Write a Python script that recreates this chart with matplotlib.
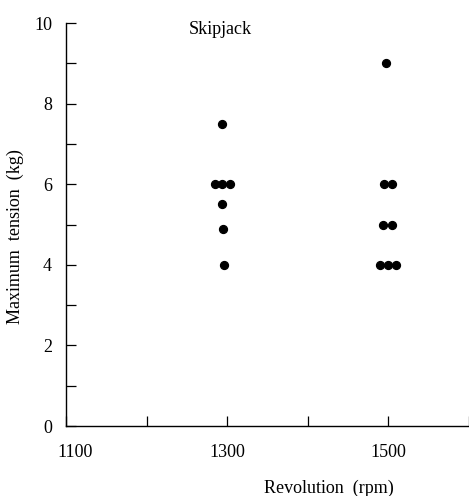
import matplotlib.pyplot as plt
import matplotlib.transforms as mtransforms
from matplotlib.ticker import MultipleLocator

# Skipjack maximum tension vs revolution (points spread sideways where they overlap)
rpm_1300 = [1294, 1285, 1294, 1304, 1294, 1295, 1296]
tension_1300 = [7.5, 6.0, 6.0, 6.0, 5.5, 4.9, 4.0]
rpm_1500 = [1497, 1494, 1505, 1493, 1504, 1490, 1499, 1509]
tension_1500 = [9.0, 6.0, 6.0, 5.0, 5.0, 4.0, 4.0, 4.0]

x_ticks = [1100, 1300, 1500]
x_minor = [1200, 1400, 1600]

plt.rcParams["font.family"] = ["Liberation Serif", "DejaVu Serif"]

fig = plt.figure(figsize=(4.69, 4.96), dpi=100)
ax = fig.add_axes([0.1407, 0.1411, 0.8593, 0.8125])

ax.scatter(rpm_1300, tension_1300, s=32, color="black", zorder=3, clip_on=False)
ax.scatter(rpm_1500, tension_1500, s=32, color="black", zorder=3, clip_on=False)

ax.set_xlim(1100, 1600)
ax.set_ylim(0, 10)
ax.set_xticks(x_ticks)
ax.set_xticks(x_minor, minor=True)
ax.yaxis.set_major_locator(MultipleLocator(2))
ax.yaxis.set_minor_locator(MultipleLocator(1))

ax.spines["top"].set_visible(False)
ax.spines["right"].set_visible(False)
ax.spines["left"].set_linewidth(1.0)
ax.spines["bottom"].set_linewidth(1.0)

ax.tick_params(axis="both", which="both", direction="in", length=7, width=0.9)
ax.tick_params(axis="y", which="major", pad=10, labelsize=13)
ax.tick_params(axis="x", which="major", pad=13, labelsize=13)

# first x label sits a little right of its tick in the original
shift = mtransforms.ScaledTranslation(9 / 100, 0, fig.dpi_scale_trans)
first = ax.get_xticklabels()[0]
first.set_transform(first.get_transform() + shift)

ax.set_ylabel("Maximum  tension  (kg)", fontsize=13)
ax.yaxis.set_label_coords(-0.104, 0.471)
ax.set_xlabel("Revolution  (rpm)", fontsize=13)
ax.xaxis.set_label_coords(0.653, -0.134)

ax.text(1292, 9.83, "Skipjack", fontsize=13, ha="center", va="center")

fig.savefig("out.png", dpi=100)
